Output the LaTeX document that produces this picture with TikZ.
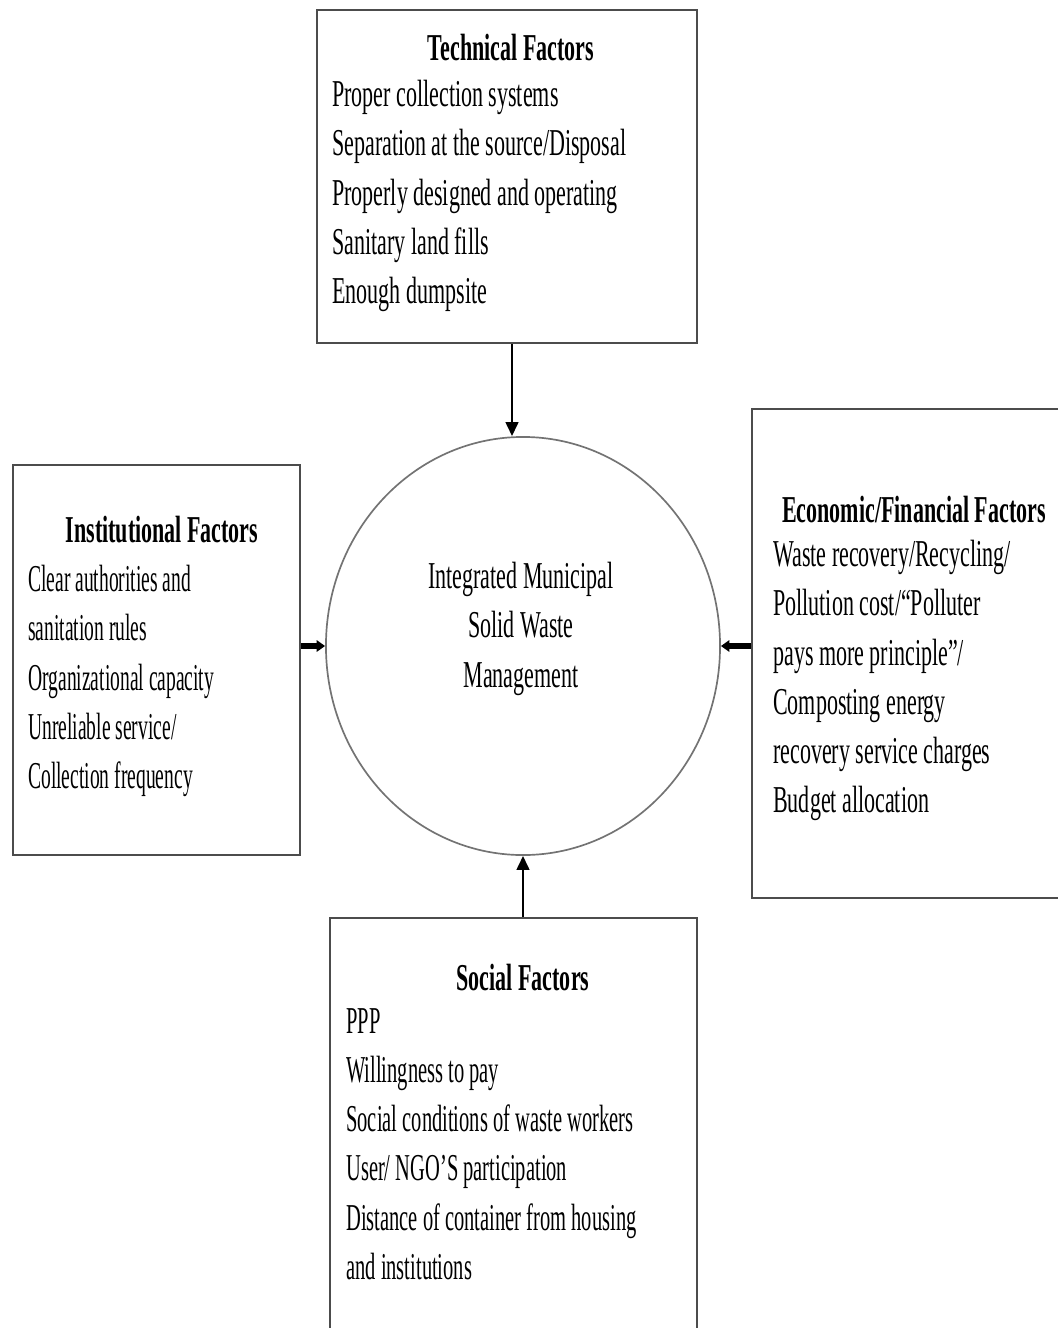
\documentclass[tikz,border=0pt]{standalone}
\usepackage{fontspec}
\setmainfont{Liberation Serif}[FakeStretch=0.58]
\newfontfamily\narrowserif{Liberation Serif}[FakeStretch=0.515,Ligatures=TeX]
\newfontfamily\socialserif{Liberation Serif}[FakeStretch=0.54,Ligatures=TeX]
\usetikzlibrary{shapes.geometric,arrows.meta,positioning}

\tikzset{
    factorbox/.style={draw=black!70,line width=1.5pt,rectangle,inner sep=0pt},
    hub/.style={draw=black!55,line width=1.2pt,ellipse,inner sep=0pt},
    heading/.style={font=\fontsize{27}{35}\selectfont\bfseries,inner sep=0pt,anchor=base},
    itemlist/.style={font=\fontsize{27}{35}\selectfont,align=left,inner sep=0pt,anchor=north west},
    narrowlist/.style={itemlist,font=\fontsize{27}{35}\selectfont\narrowserif},
    sociallist/.style={itemlist,font=\fontsize{27}{35}\selectfont\socialserif},
    feed/.style={-{Triangle[length=10pt,width=9pt]},line width=1.8pt},
    stubfeed/.style={-{Triangle[length=6pt,width=8pt]},line width=4pt}
}

\begin{document}
\begin{tikzpicture}[x=0.025cm,y=-0.025cm]
        \useasboundingbox (0,0) rectangle (1058,1328);
        %% Boxes
        \node[factorbox,minimum width=9.5cm,minimum height=8.325cm] (tech) at (507,176.5) {};
        \node[factorbox,minimum width=7.175cm,minimum height=9.75cm] (inst) at (156.5,660) {};
        \node[factorbox,minimum width=7.75cm,minimum height=12.225cm] (econ) at (907,653.5) {};
        \node[factorbox,minimum width=9.175cm,minimum height=10.35cm] (soc) at (513.5,1125) {};
        \node[hub,minimum width=9.85cm,minimum height=10.45cm] (imswm) at (523,646) {};
        %% Texts
        \node[heading] (techhead) at (511,60) {Technical Factors};
        \node[itemlist] (techlist) at (332,80) {Proper collection systems\\Separation at the source/Disposal\\Properly designed and operating\\Sanitary land fills\\Enough dumpsite};
        \node[heading] (insthead) at (162,542) {Institutional Factors};
        \node[narrowlist] (instlist) at (28,565) {Clear authorities and\\sanitation rules\\Organizational capacity\\Unreliable service/\\Collection frequency};
        \node[heading] (econhead) at (914,522) {Economic/Financial Factors};
        \node[itemlist] (econlist) at (773,540) {Waste recovery/Recycling/\\Pollution cost/``Polluter\\pays more principle''/\\Composting energy\\recovery service charges\\Budget allocation};
        \node[heading] (sochead) at (523,990) {Social Factors};
        \node[sociallist] (soclist) at (346,1008) {PPP\\Willingness to pay\\Social conditions of waste workers\\User/ NGO’S participation\\Distance of container from housing\\and institutions};
        \node[itemlist,align=center,anchor=north] (hubtext) at (521,562) {Integrated Municipal\\Solid Waste\\Management};
        %% Arrows
        \draw[feed] ([xshift=0.125cm]tech.south) -- ([xshift=0.125cm]tech.south |- imswm.north);
        \draw[stubfeed] (inst.east |- imswm.west) -- (imswm.west);
        \draw[stubfeed] (econ.west |- imswm.east) -- (imswm.east);
        \draw[feed] (soc.north -| imswm.south) -- (imswm.south);
\end{tikzpicture}
\end{document}
